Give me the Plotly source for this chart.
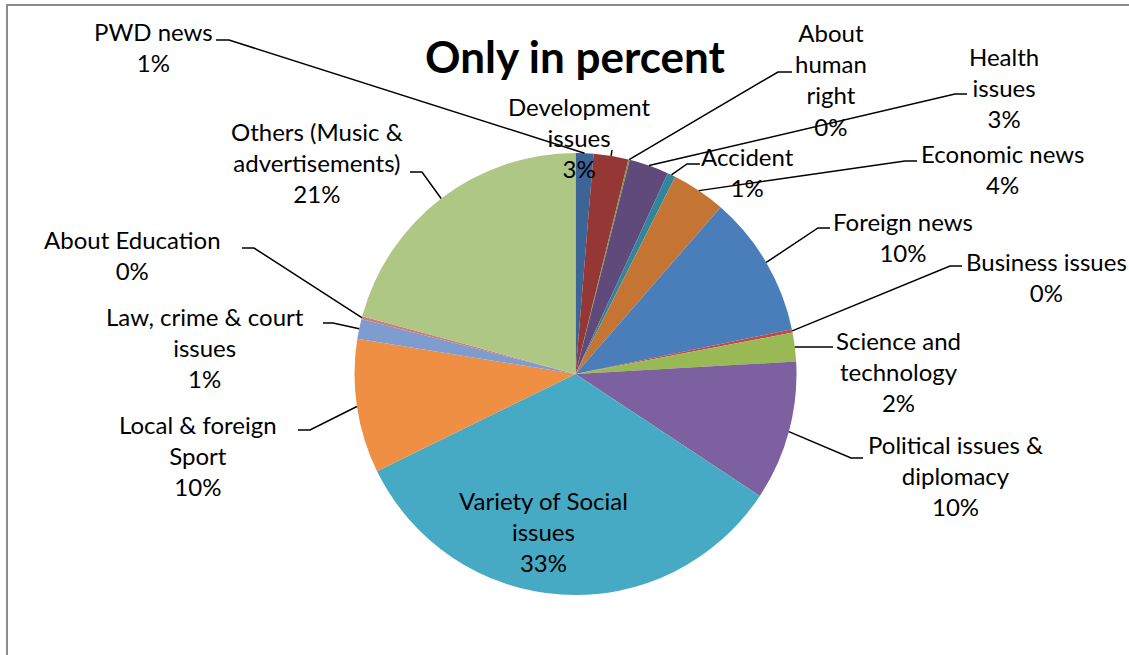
import math
import plotly.graph_objects as go

# Share of airtime by news topic (percent)
categories = [
    "PWD news",
    "Development issues",
    "About human right",
    "Health issues",
    "Accident",
    "Economic news",
    "Foreign news",
    "Business issues",
    "Science and technology",
    "Political issues & diplomacy",
    "Variety of Social issues",
    "Local & foreign Sport",
    "Law, crime & court issues",
    "About Education",
    "Others (Music & advertisements)",
]
shares = [1.3, 2.55, 0.1, 2.9, 0.6, 3.95, 10.35, 0.25, 2.1, 10.2, 33.45, 9.8, 1.45, 0.2, 20.8]

# How each category name is broken over lines in its label
label_lines = [
    "PWD news",
    "Development<br>issues",
    "About<br>human<br>right",
    "Health<br>issues",
    "Accident",
    "Economic news",
    "Foreign news",
    "Business issues",
    "Science and<br>technology",
    "Political issues &<br>diplomacy",
    "Variety of Social<br>issues",
    "Local & foreign<br>Sport",
    "Law, crime & court<br>issues",
    "About Education",
    "Others (Music &<br>advertisements)",
]

colors = [
    "#3C6497", "#953735", "#77933C", "#604A7B", "#31859C", "#C57533",
    "#4A7EBB", "#BE4B48", "#98B954", "#7D60A0", "#46AAC5", "#EE8F43",
    "#7E9CCE", "#CF7B79", "#AEC785",
]

W, H = 1129, 655
CX, CY, R = 575.5, 374.0, 221.0

# label block centres (pixels)
label_pos = [
    (153, 47), (579, 137), (831, 79), (1004, 87), (747, 172), (1003, 169),
    (903, 237), (1046, 277), (898, 371), (956, 475), (543, 531), (198, 455),
    (205, 347), (132, 255), (317, 163),
]
# leader line: start x, knee x, y of horizontal part (None = no leader)
leaders = [
    (216, 229, 40), (612, 612, 150), (792, 778, 72), (967, 955, 94),
    (700, 687, 164), (917, 905, 161), (830, 818, 228), (962, 950, 266),
    (833, 821, 347), (863, 851, 458), None, (298, 310, 430),
    (323, 333, 323), (242, 254, 248), (410, 422, 172),
]


def px(x, y):
    return x / W, 1 - y / H


fig = go.Figure()
fig.add_trace(go.Pie(
    labels=categories,
    values=shares,
    sort=False,
    direction="clockwise",
    rotation=0,
    marker=dict(colors=colors, line=dict(width=0)),
    textinfo="none",
    domain=dict(x=[(CX - R) / W, (CX + R) / W], y=[1 - (CY + R) / H, 1 - (CY - R) / H]),
    showlegend=False,
))

total = sum(shares)
cum = 0.0
shapes = []
annotations = []
for i, v in enumerate(shares):
    mid = 2 * math.pi * (cum + v / 2) / total
    cum += v
    rx = CX + R * math.sin(mid)
    ry = CY - R * math.cos(mid)
    pct = round(v / total * 100)
    lx, ly = label_pos[i]
    ax, ay = px(lx, ly)
    annotations.append(dict(
        x=ax, y=ay, xref="paper", yref="paper", showarrow=False,
        text=f"{label_lines[i]}<br>{pct}%", align="center",
        xanchor="center", yanchor="middle",
        font=dict(family="Lato", size=24, color="#000000"),
    ))
    if leaders[i] is not None:
        sx, kx, yy = leaders[i]
        p0 = px(sx, yy)
        p1 = px(kx, yy)
        p2 = px(rx, ry)
        shapes.append(dict(
            type="path", xref="paper", yref="paper",
            path=f"M {p0[0]},{p0[1]} L {p1[0]},{p1[1]} L {p2[0]},{p2[1]}",
            line=dict(color="#000000", width=1.5),
        ))

# chart frame: left and top edges
f0 = px(7, 655)
f1 = px(7, 5)
f2 = px(1129, 5)
shapes.append(dict(type="path", xref="paper", yref="paper",
                   path=f"M {f0[0]},{f0[1]} L {f1[0]},{f1[1]} L {f2[0]},{f2[1]}",
                   line=dict(color="#8C8C8C", width=2)))

tx, ty = px(575, 56)
annotations.append(dict(
    x=tx, y=ty, xref="paper", yref="paper", showarrow=False,
    text="<b>Only in percent</b>", xanchor="center", yanchor="middle",
    font=dict(family="Lato", size=44, color="#000000"),
))

fig.update_layout(
    width=W, height=H,
    margin=dict(l=0, r=0, t=0, b=0),
    paper_bgcolor="white",
    plot_bgcolor="white",
    shapes=shapes,
    annotations=annotations,
)

fig.write_html("out.html")
